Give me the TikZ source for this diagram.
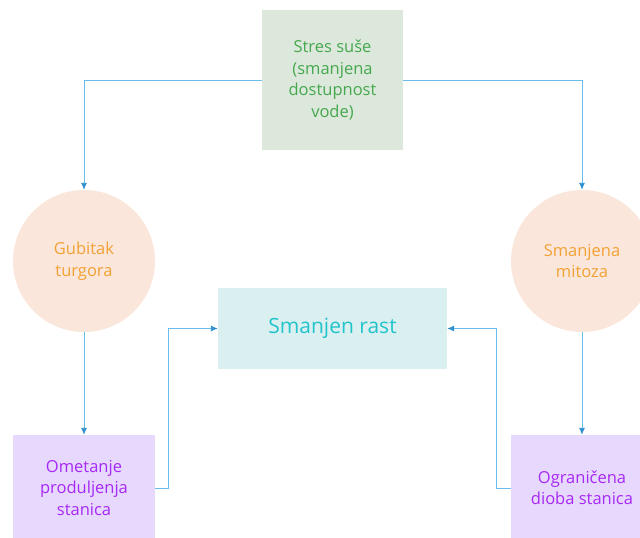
\documentclass[tikz,border=0pt]{standalone}
\usepackage{fontspec}
\setmainfont{Open Sans}
\usetikzlibrary{arrows.meta}
\definecolor{linkblue}{HTML}{69BDEB}
\definecolor{tipblue}{HTML}{2F8FCF}
\definecolor{stressfill}{HTML}{DCE8DB}
\definecolor{stresstext}{HTML}{45A84E}
\definecolor{effectfill}{HTML}{FBE6DB}
\definecolor{effecttext}{HTML}{F2A234}
\definecolor{growthfill}{HTML}{D9EFF0}
\definecolor{growthtext}{HTML}{22C4CC}
\definecolor{cellfill}{HTML}{E7D8FD}
\definecolor{celltext}{HTML}{A729F5}
\tikzset{
  stressbox/.style={fill=stressfill, text=stresstext, minimum width=141pt, minimum height=140pt, align=center, font=\fontsize{16.5}{21.5}\selectfont},
  effect/.style={circle, fill=effectfill, text=effecttext, minimum size=142pt, align=center, font=\fontsize{16.5}{21.5}\selectfont},
  growthbox/.style={fill=growthfill, text=growthtext, minimum width=229pt, minimum height=81pt, font=\fontsize{21}{25}\selectfont},
  cellbox/.style={fill=cellfill, text=celltext, minimum width=142pt, minimum height=106pt, align=center, font=\fontsize{16.5}{21.5}\selectfont},
  link/.style={draw=linkblue, line width=0.9pt, -{Latex[length=7pt,width=6pt,color=tipblue]}}
}
\begin{document}
\begin{tikzpicture}[x=1pt, y=-1pt]
\useasboundingbox (0,0) rectangle (640,538);
\node[stressbox] (stress) at (332.5,80) {Stres suše\\(smanjena\\dostupnost\\vode)};
\node[effect] (turgor) at (84,261) {Gubitak\\turgora};
\node[effect] (mitosis) at (582,261) {Smanjena\\mitoza};
\node[growthbox] (growth) at (332.5,328.5) {Smanjen rast};
\node[cellbox] (elong) at (84,488) {Ometanje\\produljenja\\stanica};
\node[cellbox] (divide) at (582,488) {Ograničena\\dioba stanica};

\draw[link] (stress.west) -| (turgor.north);
\draw[link] (stress.east) -| (mitosis.north);
\draw[link] (turgor.south) -- (elong.north);
\draw[link] (mitosis.south) -- (divide.north);
\draw[link] (elong.east) -- ++(13,0) |- (growth.west);
\draw[link] (divide.west) -- ++(-14,0) |- (growth.east);
\end{tikzpicture}
\end{document}
